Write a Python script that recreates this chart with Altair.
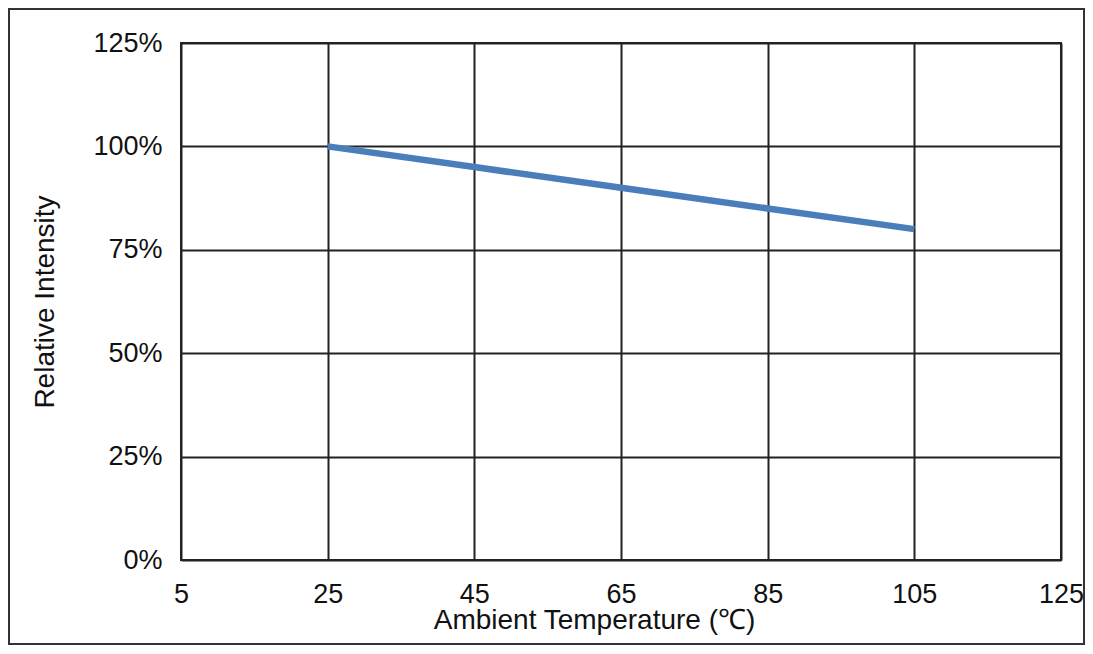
import altair as alt
import pandas as pd

temps = [25, 45, 65, 85, 105]
intensity = [1.00, 0.95, 0.90, 0.85, 0.80]
x_ticks = [5, 25, 45, 65, 85, 105, 125]
y_ticks = [0, 0.25, 0.5, 0.75, 1.0, 1.25]

df = pd.DataFrame({"temp": temps, "rel": intensity})
frame = pd.DataFrame({"k": [0]})

FONT = "Liberation Sans"

line = alt.Chart(df).mark_line(color="#4a7ebb", strokeWidth=6.5, strokeCap="butt").encode(
    x=alt.X("temp:Q",
            scale=alt.Scale(domain=[5, 125], nice=False, zero=False),
            axis=alt.Axis(values=x_ticks, title="Ambient Temperature (℃)",
                          titleX=413, titleY=68, titleBaseline="alphabetic",
                          labelPadding=21, labelFlush=False)),
    y=alt.Y("rel:Q",
            scale=alt.Scale(domain=[0, 1.25], nice=False),
            axis=alt.Axis(values=y_ticks, format=".0%", title="Relative Intensity",
                          labelPadding=19, titlePadding=33)),
)

border = alt.Chart(frame).mark_rect(filled=False, stroke="#333333", strokeWidth=2).encode(
    x=alt.value(-172), x2=alt.value(903), y=alt.value(-34), y2=alt.value(601)
)

chart = alt.layer(line, border).properties(
    width=880, height=517,
    autosize=alt.AutoSizeParams(type="none"),
    padding={"left": 173, "top": 35, "right": 24, "bottom": 85},
).configure_view(
    stroke="#222222", strokeWidth=2
).configure_axis(
    grid=True, gridColor="#222222", gridWidth=2, gridOpacity=1,
    domain=False, ticks=False,
    labelFont=FONT, labelFontSize=27, labelColor="#111111",
    titleFont=FONT, titleFontSize=28, titleFontWeight="normal", titleColor="#111111",
)

chart.save("out.html", embed_options={"renderer": "svg", "actions": False})
